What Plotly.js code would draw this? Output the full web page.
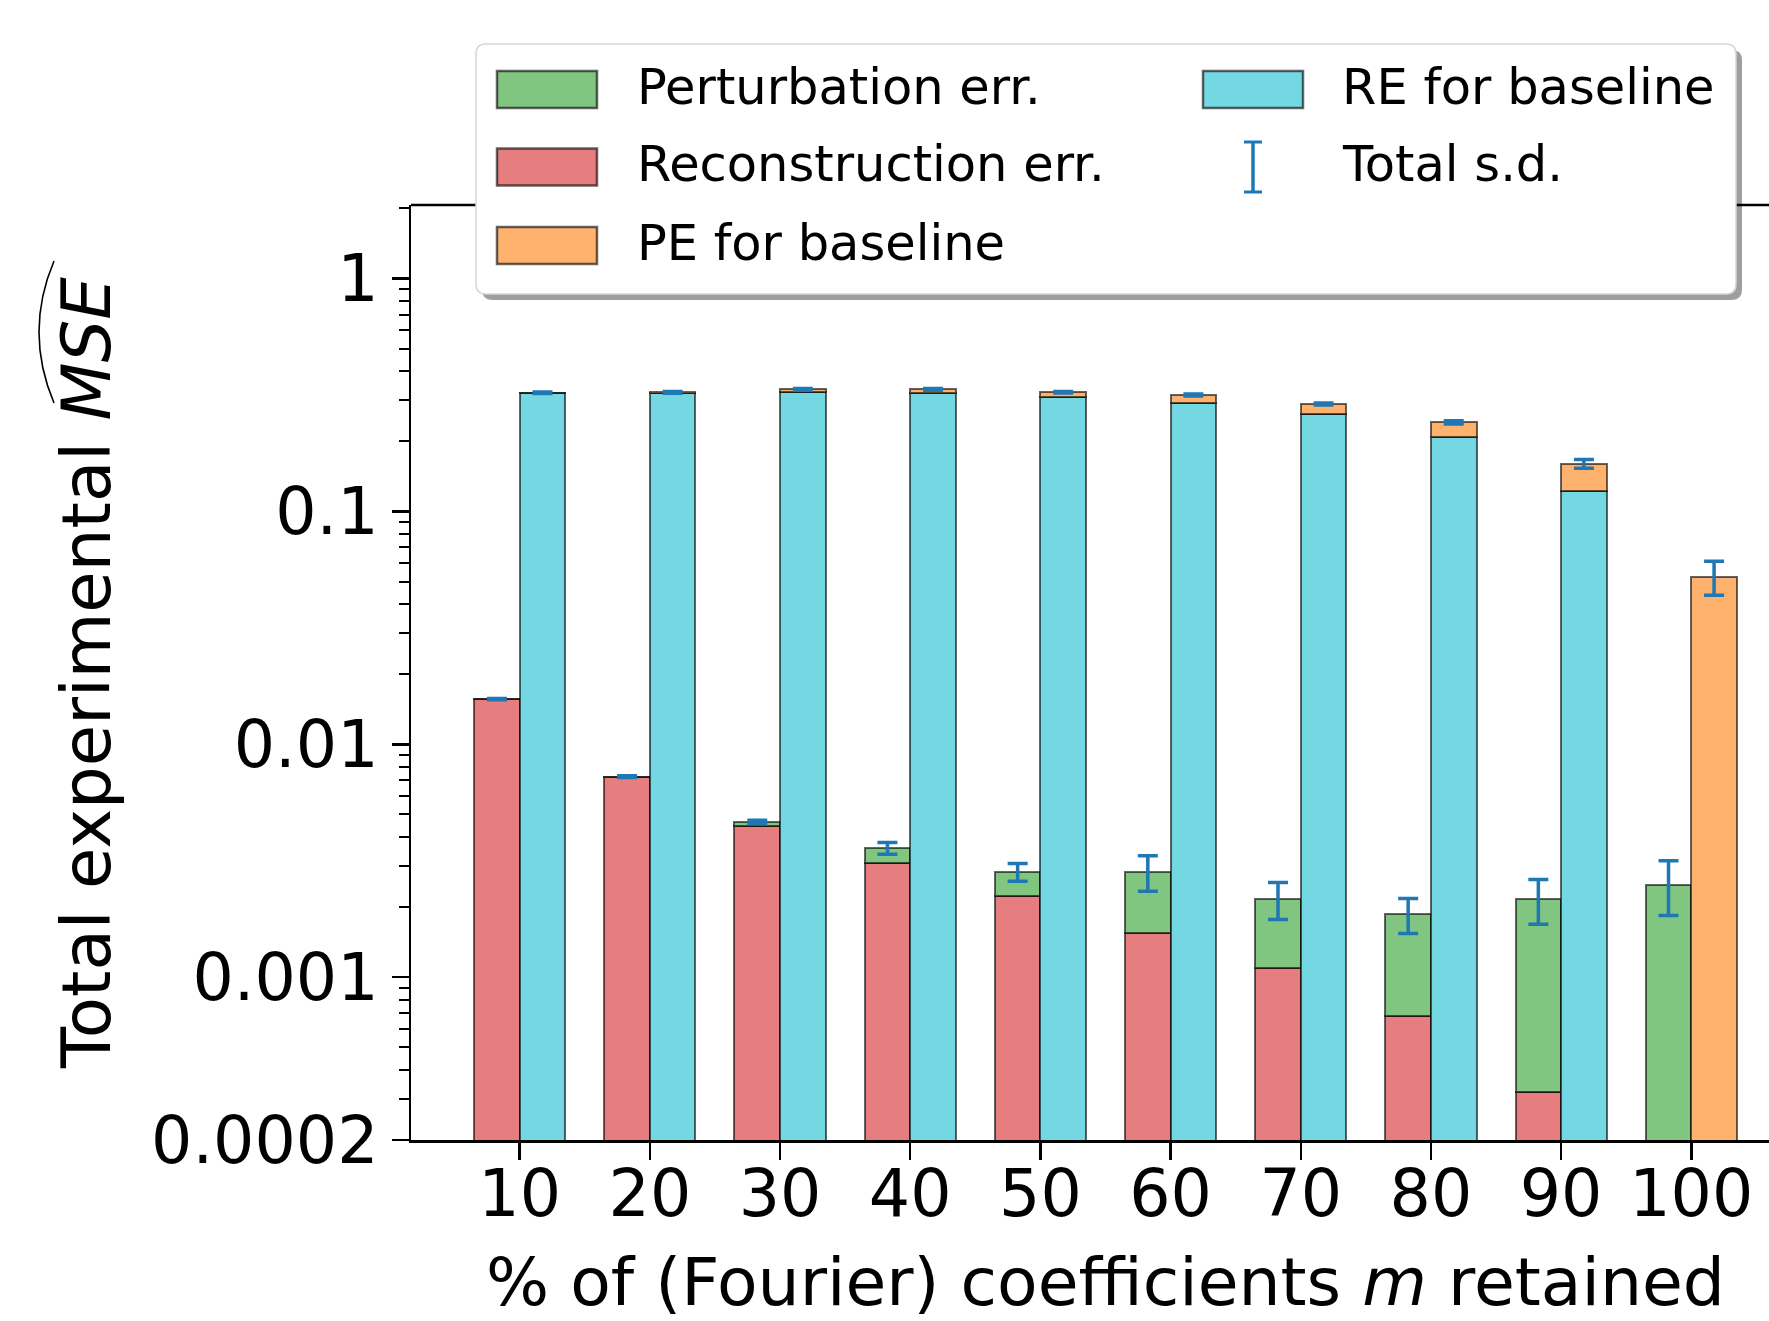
<!DOCTYPE html>
<html>
<head>
<meta charset="utf-8">
<script src="https://cdn.plot.ly/plotly-3.0.1.min.js"></script>
<style>
  html, body { margin: 0; padding: 0; background: #ffffff; overflow: hidden; width: 1769px; height: 1321px; }
  #chart { width: 1800px; height: 1321px; }
</style>
</head>
<body>
<div id="chart"></div>
<script>
// ---------------- data ----------------
const categories   = [10, 20, 30, 40, 50, 60, 70, 80, 90, 100];
const reconErr     = [0.0156, 0.00722, 0.00447, 0.00308, 0.00223, 0.00155, 0.00110, 0.00068, 0.00032, 0];
const pertErr      = [0.00003, 0.00005, 0.00017, 0.00050, 0.00060, 0.00128, 0.00106, 0.00118, 0.00184, 0.00250];
const totalSd      = [0.0001, 0.00006, 0.00008, 0.00021, 0.00025, 0.00049, 0.00039, 0.00032, 0.00047, 0.00066];
const reBaseline   = [0.3218, 0.3216, 0.3254, 0.3234, 0.3106, 0.2931, 0.2611, 0.2083, 0.1222, 0];
const peBaseline   = [0.0015, 0.003, 0.009, 0.011, 0.014, 0.023, 0.028, 0.033, 0.038, 0.0524];
const baselineSd   = [0.0025, 0.003, 0.003, 0.003, 0.0025, 0.003, 0.003, 0.004, 0.0069, 0.0087];
const yTickVals    = [0.0002, 0.001, 0.01, 0.1, 1];
const yTickText    = ["0.0002", "0.001", "0.01", "0.1", "1"];
const seriesNames  = ["Perturbation err.", "Reconstruction err.", "PE for baseline", "RE for baseline", "Total s.d."];
const xTitle = "% of (Fourier) coefficients <i>m</i> retained";
const yTitle = "Total experimental <i>MSE</i>";

// ---------------- styling ----------------
// the figure is wider than the window (as in the reference, whose right edge is cut off)
const W = 1800, H = 1321;
const M = {l: 411, r: 0, t: 205, b: 181};
const plotW = W - M.l - M.r, plotH = H - M.t - M.b;
const FONT = "DejaVu Sans, Liberation Sans, sans-serif";
const C = {
  red: "rgb(230,125,126)", green: "rgb(128,198,128)",
  cyan: "rgb(116,216,226)", orange: "rgb(255,178,110)",
  edge: "rgba(0,0,0,0.6)", err: "#1f77b4"
};
const BAR_W = 3.5;
const edge = {color: C.edge, width: 2};

// pixel -> paper helpers (for the hand-drawn legend & hat)
const px = x => (x - M.l) / plotW;
const py = y => (H - M.b - y) / plotH;

// minor log ticks 2..9 x 10^k inside the range
const minorTicks = [];
for (let k = -4; k <= 0; k++) for (let d = 2; d <= 9; d++) {
  const v = d * Math.pow(10, k);
  if (v > 0.0002 && v < 2.1) minorTicks.push(v);
}

const xLeft  = categories.map(c => c - BAR_W / 2);
const xRight = categories.map(c => c + BAR_W / 2);
const totalLeft  = reconErr.map((r, i) => r + pertErr[i]);
const totalRight = reBaseline.map((r, i) => r + peBaseline[i]);

const traces = [
  {type: "bar", name: seriesNames[1], x: xLeft, y: reconErr, width: BAR_W,
   marker: {color: C.red, line: edge}, showlegend: false, hoverinfo: "y"},
  {type: "bar", name: seriesNames[0], x: xLeft, y: pertErr, width: BAR_W,
   marker: {color: C.green, line: edge}, showlegend: false, hoverinfo: "y"},
  {type: "bar", name: seriesNames[3], x: xRight, y: reBaseline, width: BAR_W,
   marker: {color: C.cyan, line: edge}, showlegend: false, hoverinfo: "y"},
  {type: "bar", name: seriesNames[2], x: xRight, y: peBaseline, width: BAR_W,
   marker: {color: C.orange, line: edge}, showlegend: false, hoverinfo: "y"},
  {type: "scatter", mode: "markers", name: seriesNames[4], x: xLeft, y: totalLeft,
   marker: {size: 1, opacity: 0}, showlegend: false,
   error_y: {type: "data", array: totalSd, visible: true, color: C.err, thickness: 3.5, width: 10}},
  {type: "scatter", mode: "markers", name: seriesNames[4], x: xRight, y: totalRight,
   marker: {size: 1, opacity: 0}, showlegend: false,
   error_y: {type: "data", array: baselineSd, visible: true, color: C.err, thickness: 3.5, width: 10}}
];

// ---------------- hand-drawn legend (matplotlib style) ----------------
const shapes = [];
const annotations = [];
// top spine
shapes.push({type: "line", xref: "paper", yref: "paper", x0: 0, x1: 1, y0: 1, y1: 1,
             line: {color: "black", width: 2.5}});

function roundRect(x0, y0, x1, y1, r) {
  const X = v => px(v).toFixed(5), Y = v => py(v).toFixed(5);
  return "M" + X(x0 + r) + "," + Y(y0) +
    " L" + X(x1 - r) + "," + Y(y0) + " Q" + X(x1) + "," + Y(y0) + " " + X(x1) + "," + Y(y0 + r) +
    " L" + X(x1) + "," + Y(y1 - r) + " Q" + X(x1) + "," + Y(y1) + " " + X(x1 - r) + "," + Y(y1) +
    " L" + X(x0 + r) + "," + Y(y1) + " Q" + X(x0) + "," + Y(y1) + " " + X(x0) + "," + Y(y1 - r) +
    " L" + X(x0) + "," + Y(y0 + r) + " Q" + X(x0) + "," + Y(y0) + " " + X(x0 + r) + "," + Y(y0) + " Z";
}
const LB = {x0: 476, y0: 44, x1: 1736, y1: 294};
shapes.push({type: "path", xref: "paper", yref: "paper",
             path: roundRect(LB.x0 + 6, LB.y0 + 6, LB.x1 + 6, LB.y1 + 6, 10),
             fillcolor: "rgba(0,0,0,0.38)", line: {width: 0}});
shapes.push({type: "path", xref: "paper", yref: "paper",
             path: roundRect(LB.x0, LB.y0, LB.x1, LB.y1, 10),
             fillcolor: "white", line: {color: "#d6d6d6", width: 1.5}});

const legendItems = [
  {name: seriesNames[0], color: C.green,  col: 0, row: 0},
  {name: seriesNames[1], color: C.red,    col: 0, row: 1},
  {name: seriesNames[2], color: C.orange, col: 0, row: 2},
  {name: seriesNames[3], color: C.cyan,   col: 1, row: 0},
  {name: seriesNames[4], color: null,     col: 1, row: 1}
];
const colSwatchX = [497, 1203], colTextX = [635, 1340];
const rowY = [89.5, 167, 245.5];
legendItems.forEach(it => {
  const cy = rowY[it.row], sx = colSwatchX[it.col];
  if (it.color) {
    shapes.push({type: "rect", xref: "paper", yref: "paper",
                 x0: px(sx), x1: px(sx + 100), y0: py(cy - 18.5), y1: py(cy + 18.5),
                 fillcolor: it.color, line: {color: C.edge, width: 2.5}});
  } else {
    const cx = sx + 50;
    shapes.push({type: "line", xref: "paper", yref: "paper", x0: px(cx), x1: px(cx),
                 y0: py(cy - 25), y1: py(cy + 25), line: {color: C.err, width: 3.5}});
    [cy - 25, cy + 25].forEach(yy => shapes.push({type: "line", xref: "paper", yref: "paper",
                 x0: px(cx - 9), x1: px(cx + 9), y0: py(yy), y1: py(yy), line: {color: C.err, width: 3}}));
  }
  annotations.push({xref: "paper", yref: "paper", x: px(colTextX[it.col]), y: py(cy - 3),
                    xanchor: "left", yanchor: "middle", showarrow: false, text: it.name,
                    font: {family: FONT, size: 49.5, color: "black"}});
});

// wide hat over MSE in the y title
shapes.push({type: "path", xref: "paper", yref: "paper",
             path: "M" + px(54) + "," + py(261) + " Q" + px(24) + "," + py(332) + " " + px(54) + "," + py(403),
             line: {color: "black", width: 1.6}});

const layout = {
  width: W, height: H,
  margin: M,
  paper_bgcolor: "white", plot_bgcolor: "white",
  barmode: "stack",
  showlegend: false,
  font: {family: FONT, color: "black"},
  xaxis: {
    type: "linear", range: [1.65, 108.35], tickmode: "array", tickvals: categories,
    ticktext: categories.map(String), ticks: "outside", ticklen: 17, tickwidth: 2.5,
    tickcolor: "black", showline: true, linecolor: "black", linewidth: 2.5,
    showgrid: false, zeroline: false, tickfont: {family: FONT, size: 65},
    ticklabelstandoff: -22,
    title: {text: xTitle, font: {family: FONT, size: 66.4}, standoff: 61}
  },
  yaxis: {
    type: "log", range: [Math.log10(0.0002), 0.3156], tickmode: "array",
    tickvals: yTickVals, ticktext: yTickText, ticks: "outside", ticklen: 17, tickwidth: 2.5,
    tickcolor: "black", showline: true, linecolor: "black", linewidth: 2.5,
    showgrid: false, zeroline: false, tickfont: {family: FONT, size: 65},
    minor: {tickmode: "array", tickvals: minorTicks, ticks: "outside", ticklen: 10,
            tickwidth: 2, tickcolor: "black", showgrid: false},
    title: {text: yTitle, font: {family: FONT, size: 67.4}, standoff: 19}
  },
  shapes: shapes,
  annotations: annotations
};

Plotly.newPlot("chart", traces, layout, {staticPlot: true});
</script>
</body>
</html>
